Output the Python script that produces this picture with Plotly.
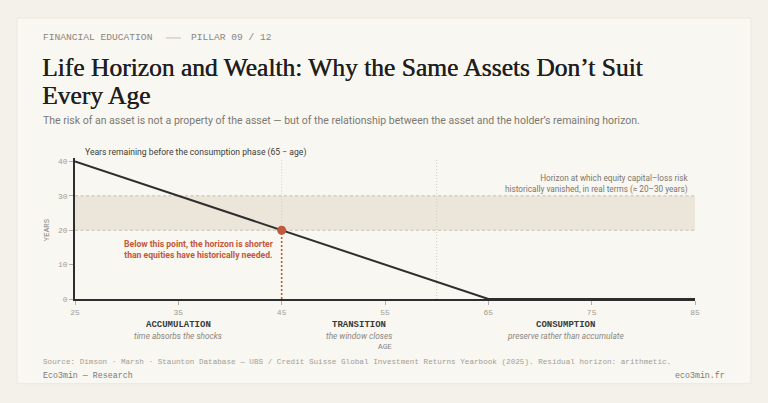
import plotly.graph_objects as go

# data
ages = [25, 65, 85]
years_left = [40, 0, 0]
retire_age = 65
band_low, band_high = 20, 30
cross_age, cross_years = 45, 20
transition_end = 60
x_ticks = [25, 35, 45, 55, 65, 75, 85]
y_ticks = [0, 10, 20, 30, 40]
phases = ["ACCUMULATION", "TRANSITION", "CONSUMPTION"]
phase_notes = ["time absorbs the shocks", "the window closes", "preserve rather than accumulate"]
phase_centers = [35, 52.5, 72.5]

W, H = 768, 403
L, R, T, B = 75, 695, 157.5, 299
MONO = "Liberation Mono"
SANS = "Roboto"
SERIF = "Liberation Serif"
INK = "#2e2e2e"
GREY = "#8a8680"
RED = "#c4583b"
PAGE = "#f4f1ea"


def px(x):
    return (x - L) / (R - L)


def py(y):
    return (B - y) / (B - T)


fig = go.Figure()

# band of "safe" horizon
fig.add_shape(type="rect", x0=25, x1=85, y0=band_low, y1=band_high,
              fillcolor="#ece6da", line_width=0, layer="below")
for yv in (band_low, band_high):
    fig.add_shape(type="line", x0=25, x1=85, y0=yv, y1=yv,
                  line=dict(color="#c6bfb3", width=1, dash="3px,2.5px"), layer="below")

# vertical guides
fig.add_shape(type="line", x0=cross_age, x1=cross_age, y0=cross_years, y1=41,
              line=dict(color="#d2ccc2", width=1, dash="1px,2px"), layer="below")
fig.add_shape(type="line", x0=cross_age, x1=cross_age, y0=0, y1=cross_years,
              line=dict(color=RED, width=1.6, dash="2px,2px"))
fig.add_shape(type="line", x0=transition_end, x1=transition_end, y0=0, y1=41,
              line=dict(color="#d2ccc2", width=1, dash="1px,2px"), layer="below")

fig.add_trace(go.Scatter(x=ages, y=years_left, mode="lines",
                         line=dict(color=INK, width=2), hoverinfo="skip"))
fig.add_trace(go.Scatter(x=[cross_age], y=[cross_years], mode="markers",
                         marker=dict(color=RED, size=9), hoverinfo="skip"))

# card
fig.add_shape(type="rect", xref="paper", yref="paper",
              x0=px(17), x1=px(751), y0=py(17), y1=py(384),
              fillcolor="#f9f7f1", line=dict(color="#ece7dd", width=1), layer="below")
# header rule
fig.add_shape(type="line", xref="paper", yref="paper",
              x0=px(166), x1=px(181), y0=py(37), y1=py(37),
              line=dict(color="#c8bfae", width=1))

ann = []


def text(x, y, s, size, color, family, xanchor="left", **kw):
    font = dict(size=size, color=color, family=family)
    font.update(kw.pop("font_extra", {}))
    ann.append(dict(xref="paper", yref="paper", x=px(x), y=py(y), text=s,
                    showarrow=False, xanchor=xanchor, yanchor="middle",
                    font=font, **kw))


title_font = {"shadow": "0.45px 0 0 #1f1f1f"}
text(41, 37, "FINANCIAL EDUCATION", 9.6, GREY, MONO)
text(189, 37, "PILLAR 09 / 12", 9.6, GREY, MONO)
text(40, 67, "Life Horizon and Wealth: Why the Same Assets Don’t Suit", 25.5, "#1f1f1f", SERIF,
     font_extra=title_font)
text(40, 95, "Every Age", 25.5, "#1f1f1f", SERIF, font_extra=title_font)
text(41, 120, "The risk of an asset is not a property of the asset — but of the relationship "
              "between the asset and the holder’s remaining horizon.", 10.5, "#7c7872", SANS)
text(83, 152, "Years remaining before the consumption phase (65 − age)", 8.6, "#3c3c3c", SANS)
text(690, 183.5, "Horizon at which equity capital–loss risk<br>"
                 "historically vanished, in real terms (≈ 20–30 years)", 8.2, "#7a766f", SANS,
     xanchor="right", align="right")
text(199, 249, "<b>Below this point, the horizon is shorter<br>than equities have historically needed.</b>",
     8.6, RED, SANS, xanchor="center", align="center")
text(47, 230, "YEARS", 7.5, GREY, MONO, xanchor="center", textangle=-90)
for name, note, c in zip(phases, phase_notes, phase_centers):
    xp = L + (c - 25) / 60 * (R - L)
    text(xp, 325, "<b>" + name + "</b>", 9, "#3a3a3a", MONO, xanchor="center")
    text(xp, 336, "<i>" + note + "</i>", 8.3, GREY, SANS, xanchor="center")
text(385, 347, "AGE", 7.8, GREY, MONO, xanchor="center")
text(41, 362, "Source: Dimson · Marsh · Staunton Database — UBS / Credit Suisse Global "
              "Investment Returns Yearbook (2025). Residual horizon: arithmetic.", 7.65, "#a29d95", MONO)
text(41, 376, "Eco3min — Research", 8.3, "#7c7872", MONO)
text(727, 376, "eco3min.fr", 8.3, "#7c7872", MONO, xanchor="right")

fig.update_layout(
    width=W, height=H,
    margin=dict(l=L, r=W - R, t=T, b=H - B),
    paper_bgcolor=PAGE, plot_bgcolor="rgba(0,0,0,0)",
    showlegend=False, annotations=ann,
    xaxis=dict(range=[25, 85], tickvals=x_ticks, showgrid=False, zeroline=False,
               showline=True, linecolor=INK, linewidth=2, ticks="outside", ticklen=4,
               tickcolor="#b5b0a7", tickfont=dict(family=MONO, size=8, color="#a29d95")),
    yaxis=dict(range=[0, 41], tickvals=y_ticks, showgrid=False, zeroline=False,
               showline=True, linecolor=INK, linewidth=1.5, ticks="outside", ticklen=4,
               tickcolor="#b5b0a7", tickfont=dict(family=MONO, size=8, color="#a29d95")),
)

fig.write_html("out.html", config={"displayModeBar": False},
               post_script="document.body.style.margin='0';"
                           "document.body.style.background='" + PAGE + "';")
